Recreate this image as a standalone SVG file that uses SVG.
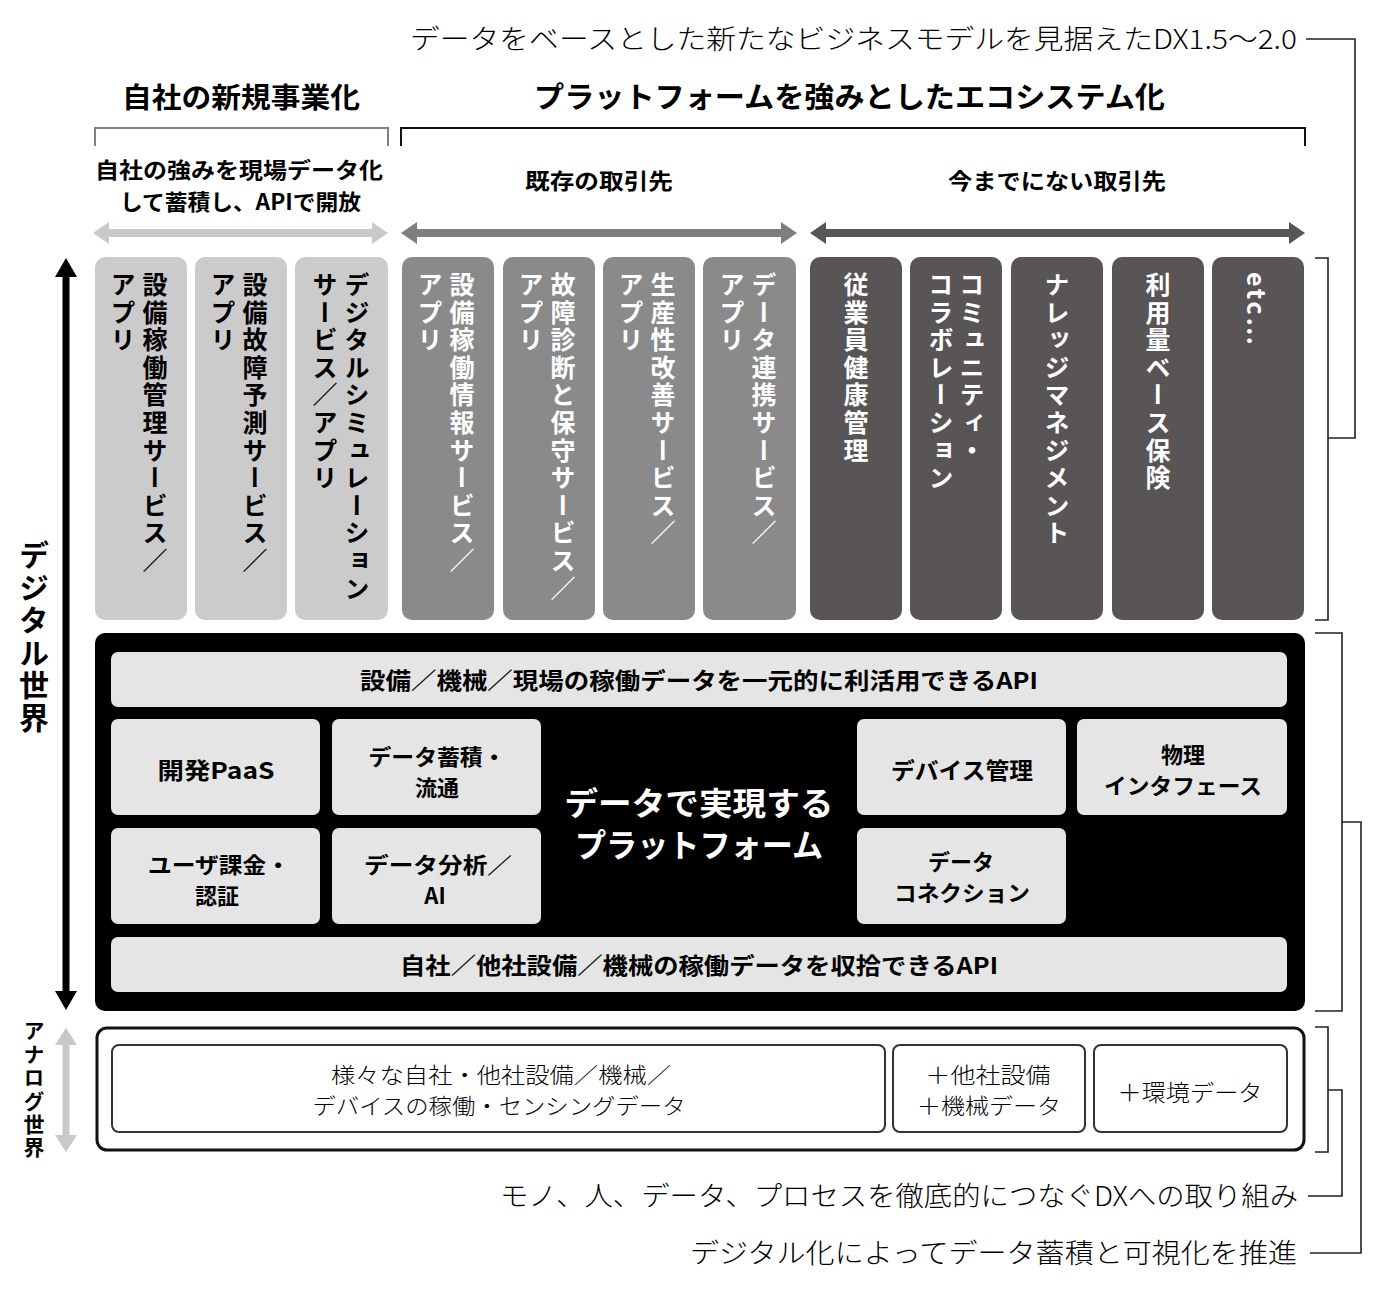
<svg xmlns="http://www.w3.org/2000/svg" width="1380" height="1295" viewBox="0 0 1380 1295">
<style>
text{font-family:"Noto Sans CJK JP","Noto Sans CJK SC",sans-serif;}
.b{font-weight:700;}
.l{font-weight:300;}
.c{text-anchor:middle;}
.v{writing-mode:vertical-rl;font-size:25px;font-weight:700;letter-spacing:2.6px;}
.wt{fill:#fff;}
.col1{fill:#cbcbcb;}
.col2{fill:#8a8a8a;}
.col3{fill:#595556;}
.pi{fill:#e5e5e5;}
.ln{fill:none;stroke:#222;stroke-width:1.6;}
.ib{fill:#fff;stroke:#333;stroke-width:2;}
</style>
<rect width="1380" height="1295" fill="#fff"/>

<g id="captions">
<text x="410" y="49" class="l" font-size="27" textLength="887" lengthAdjust="spacingAndGlyphs">データをベースとした新たなビジネスモデルを見据えたDX1.5～2.0</text>
<text x="500" y="1206" class="l" font-size="27" textLength="798" lengthAdjust="spacingAndGlyphs">モノ、人、データ、プロセスを徹底的につなぐDXへの取り組み</text>
<text x="690" y="1263" class="l" font-size="27" textLength="607" lengthAdjust="spacingAndGlyphs">デジタル化によってデータ蓄積と可視化を推進</text>
</g>

<g id="headers">
<text x="122" y="108" class="b" font-size="28" textLength="238" lengthAdjust="spacingAndGlyphs">自社の新規事業化</text>
<text x="534" y="108" class="b" font-size="29" textLength="631" lengthAdjust="spacingAndGlyphs">プラットフォームを強みとしたエコシステム化</text>
<path d="M95,146 V128 H388 V146" fill="none" stroke="#808080" stroke-width="2"/>
<path d="M401,146 V128 H1305 V146" fill="none" stroke="#111" stroke-width="2"/>
<text x="95" y="178" class="b" font-size="22" textLength="288" lengthAdjust="spacingAndGlyphs">自社の強みを現場データ化</text>
<text x="120" y="210" class="b" font-size="22" textLength="241" lengthAdjust="spacingAndGlyphs">して蓄積し、APIで開放</text>
<text x="525" y="189" class="b" font-size="22" textLength="148" lengthAdjust="spacingAndGlyphs">既存の取引先</text>
<text x="948" y="189" class="b" font-size="22" textLength="218" lengthAdjust="spacingAndGlyphs">今までにない取引先</text>
</g>

<g id="connectors">
<polygon fill="#c9c9c9" points="93,233 109,222 109,229 372,229 372,222 388,233 372,244 372,237 109,237 109,244"/>
<polygon fill="#7f7f7f" points="401,233 417,222 417,229 781,229 781,222 797,233 781,244 781,237 417,237 417,244"/>
<polygon fill="#575556" points="810,233 826,222 826,229 1289,229 1289,222 1305,233 1289,244 1289,237 826,237 826,244"/>
<polygon fill="#000" points="66,258 77,277 69.5,277 69.5,991 77,991 66,1010 55,991 62.5,991 62.5,277 55,277"/>
<polygon fill="#c8c8c8" points="66,1028 77,1045 69.5,1045 69.5,1135 77,1135 66,1152 55,1135 62.5,1135 62.5,1045 55,1045"/>
<path class="ln" d="M1306,39 H1355 V438 H1328"/>
<path class="ln" d="M1315,258 H1328 V620 H1315"/>
<path class="ln" d="M1315,633 H1342 V1011 H1315"/>
<path class="ln" d="M1342,822 H1361 V1253 H1310"/>
<path class="ln" d="M1315,1027 H1328 V1152 H1315"/>
<path class="ln" d="M1328,1090 H1342 V1196 H1308"/>
</g>

<g id="world-labels">
<text x="34" y="540" class="b" style="writing-mode:vertical-rl;font-size:30px;letter-spacing:2.5px">デジタル世界</text>
<text x="34" y="1020" class="b" style="writing-mode:vertical-rl;font-size:21px;letter-spacing:2.4px">アナログ世界</text>
</g>

<g id="app1"><rect x="95" y="257" width="92" height="363" rx="10" class="col1"/>
<text x="155" y="272" class="v">設備稼働管理サービス／</text><text x="123" y="272" class="v">アプリ</text></g>
<g id="app2"><rect x="195" y="257" width="92" height="363" rx="10" class="col1"/>
<text x="255" y="272" class="v">設備故障予測サービス／</text><text x="223" y="272" class="v">アプリ</text></g>
<g id="app3"><rect x="295" y="257" width="93" height="363" rx="10" class="col1"/>
<text x="357" y="272" class="v">デジタルシミュレーション</text><text x="325" y="272" class="v">サービス／アプリ</text></g>
<g id="app4"><rect x="402" y="257" width="92" height="363" rx="10" class="col2"/>
<text x="462" y="272" class="v wt">設備稼働情報サービス／</text><text x="430" y="272" class="v wt">アプリ</text></g>
<g id="app5"><rect x="503" y="257" width="92" height="363" rx="10" class="col2"/>
<text x="563" y="272" class="v wt">故障診断と保守サービス／</text><text x="531" y="272" class="v wt">アプリ</text></g>
<g id="app6"><rect x="603" y="257" width="92" height="363" rx="10" class="col2"/>
<text x="663" y="272" class="v wt">生産性改善サービス／</text><text x="631" y="272" class="v wt">アプリ</text></g>
<g id="app7"><rect x="703" y="257" width="93" height="363" rx="10" class="col2"/>
<text x="764" y="272" class="v wt">データ連携サービス／</text><text x="732" y="272" class="v wt">アプリ</text></g>
<g id="app8"><rect x="810" y="257" width="92" height="363" rx="10" class="col3"/>
<text x="856" y="272" class="v wt">従業員健康管理</text></g>
<g id="app9"><rect x="910" y="257" width="92" height="363" rx="10" class="col3"/>
<text x="972" y="272" class="v wt">コミュニティ・</text><text x="941" y="272" class="v wt">コラボレーション</text></g>
<g id="app10"><rect x="1011" y="257" width="92" height="363" rx="10" class="col3"/>
<text x="1057" y="272" class="v wt">ナレッジマネジメント</text></g>
<g id="app11"><rect x="1112" y="257" width="92" height="363" rx="10" class="col3"/>
<text x="1158" y="272" class="v wt">利用量ベース保険</text></g>
<g id="app12"><rect x="1212" y="257" width="92" height="363" rx="10" class="col3"/>
<text x="1258" y="272" class="v wt">etc…</text></g>

<g id="platform">
<rect x="95" y="633" width="1210" height="378" rx="10" fill="#000"/>
<text x="699" y="815" class="b c wt" font-size="32" textLength="269" lengthAdjust="spacingAndGlyphs">データで実現する</text>
<text x="699" y="857" class="b c wt" font-size="32" textLength="248" lengthAdjust="spacingAndGlyphs">プラットフォーム</text>
</g>
<g id="api-top"><rect x="111" y="652" width="1176" height="55" rx="7" class="pi"/>
<text x="699" y="689" class="b c" font-size="23" textLength="678" lengthAdjust="spacingAndGlyphs">設備／機械／現場の稼働データを一元的に利活用できるAPI</text></g>
<g id="paas"><rect x="111" y="719" width="209" height="96" rx="7" class="pi"/>
<text x="216" y="779" class="b c" font-size="23" textLength="117" lengthAdjust="spacingAndGlyphs">開発PaaS</text></g>
<g id="store"><rect x="332" y="719" width="209" height="96" rx="7" class="pi"/>
<text x="437" y="765" class="b c" font-size="22" textLength="137" lengthAdjust="spacingAndGlyphs">データ蓄積・</text>
<text x="437" y="796" class="b c" font-size="22">流通</text></g>
<g id="billing"><rect x="111" y="828" width="209" height="96" rx="7" class="pi"/>
<text x="219" y="873" class="b c" font-size="22" textLength="142" lengthAdjust="spacingAndGlyphs">ユーザ課金・</text>
<text x="217" y="904" class="b c" font-size="22">認証</text></g>
<g id="analysis"><rect x="332" y="828" width="209" height="96" rx="7" class="pi"/>
<text x="438" y="873" class="b c" font-size="22" textLength="148" lengthAdjust="spacingAndGlyphs">データ分析／</text>
<text x="435" y="904" class="b c" font-size="22">AI</text></g>
<g id="device"><rect x="857" y="719" width="209" height="96" rx="7" class="pi"/>
<text x="962" y="779" class="b c" font-size="23" textLength="142" lengthAdjust="spacingAndGlyphs">デバイス管理</text></g>
<g id="physical"><rect x="1077" y="719" width="210" height="96" rx="7" class="pi"/>
<text x="1183" y="763" class="b c" font-size="22">物理</text>
<text x="1183" y="794" class="b c" font-size="22" textLength="158" lengthAdjust="spacingAndGlyphs">インタフェース</text></g>
<g id="connection"><rect x="857" y="828" width="209" height="96" rx="7" class="pi"/>
<text x="961" y="870" class="b c" font-size="22">データ</text>
<text x="962" y="901" class="b c" font-size="22" textLength="136" lengthAdjust="spacingAndGlyphs">コネクション</text></g>
<g id="api-bottom"><rect x="111" y="937" width="1176" height="55" rx="7" class="pi"/>
<text x="699" y="974" class="b c" font-size="23" textLength="598" lengthAdjust="spacingAndGlyphs">自社／他社設備／機械の稼働データを収拾できるAPI</text></g>

<g id="analog">
<rect x="97" y="1028" width="1207" height="122" rx="10" fill="#fff" stroke="#111" stroke-width="3"/>
</g>
<g id="sensing"><rect x="112" y="1045" width="773" height="87" rx="7" class="ib"/>
<text x="501" y="1083" class="c l" font-size="22" textLength="340" lengthAdjust="spacingAndGlyphs">様々な自社・他社設備／機械／</text>
<text x="499" y="1114" class="c l" font-size="22" textLength="373" lengthAdjust="spacingAndGlyphs">デバイスの稼働・センシングデータ</text></g>
<g id="other"><rect x="893" y="1045" width="192" height="87" rx="7" class="ib"/>
<text x="988" y="1083" class="c l" font-size="22" textLength="125" lengthAdjust="spacingAndGlyphs">＋他社設備</text>
<text x="989" y="1114" class="c l" font-size="22" textLength="144" lengthAdjust="spacingAndGlyphs">＋機械データ</text></g>
<g id="env"><rect x="1094" y="1045" width="193" height="87" rx="7" class="ib"/>
<text x="1190" y="1101" class="c l" font-size="23" textLength="145" lengthAdjust="spacingAndGlyphs">＋環境データ</text></g>
</svg>
